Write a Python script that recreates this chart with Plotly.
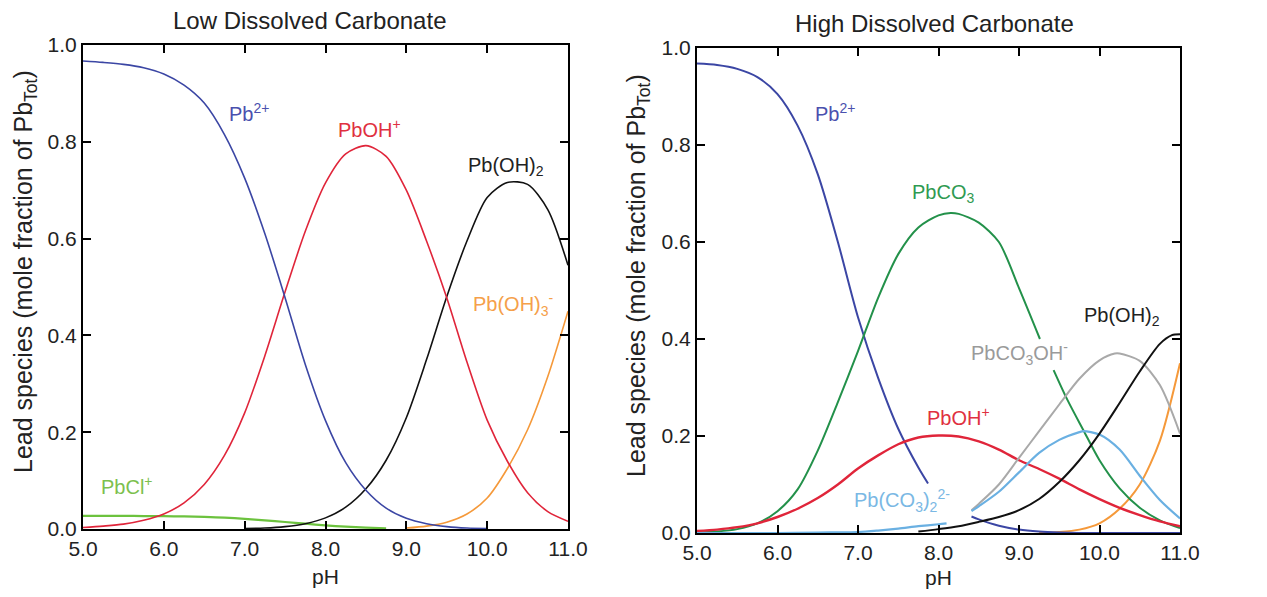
import plotly.graph_objects as go

# ---------------- Low dissolved carbonate (left) ----------------
ph_low = [5.0, 5.25, 5.5, 5.75, 6.0, 6.25, 6.5, 6.75, 7.0, 7.25, 7.5, 7.75, 8.0,
          8.25, 8.5, 8.75, 9.0, 9.25, 9.5, 9.75, 10.0, 10.25, 10.5, 10.75, 11.0]
low_pb2 = [0.967, 0.964, 0.960, 0.953, 0.940, 0.917, 0.880, 0.815, 0.725, 0.610, 0.478, 0.340, 0.224,
           0.137, 0.080, 0.043, 0.022, 0.011, 0.005, 0.002, 0.001, None, None, None, None]
low_pboh = [0.003, 0.006, 0.010, 0.018, 0.031, 0.054, 0.092, 0.152, 0.240, 0.358, 0.490, 0.615, 0.715,
            0.775, 0.792, 0.770, 0.700, 0.595, 0.478, 0.345, 0.225, 0.140, 0.075, 0.036, 0.016]
low_pboh2 = [None, None, None, None, None, None, None, None, 0.001, 0.002, 0.005, 0.011, 0.023,
             0.045, 0.083, 0.142, 0.230, 0.350, 0.480, 0.595, 0.685, 0.716, 0.712, 0.660, 0.545]
low_pboh3 = [None, None, None, None, None, None, None, None, None, None, None, None, None,
             None, None, None, 0.002, 0.006, 0.014, 0.031, 0.064, 0.125, 0.205, 0.315, 0.450]
low_pbcl = [0.027, 0.027, 0.027, 0.0268, 0.0265, 0.026, 0.025, 0.0235, 0.021, 0.018, 0.0145, 0.011, 0.0075,
            0.0048, 0.0028, 0.0015, None, None, None, None, None, None, None, None, None]

# ---------------- High dissolved carbonate (right) ----------------
ph_high = [5.0, 5.25, 5.5, 5.75, 6.0, 6.25, 6.5, 6.75, 7.0, 7.25, 7.5, 7.75, 8.0,
           8.25, 8.5, 8.75, 9.0, 9.25, 9.5, 9.75, 10.0, 10.25, 10.5, 10.75, 11.0]
hi_pboh = [0.004, 0.007, 0.012, 0.020, 0.033, 0.050, 0.072, 0.100, 0.133, 0.160, 0.183, 0.197, 0.201,
           0.199, 0.189, 0.172, 0.150, 0.132, 0.112, 0.090, 0.070, 0.052, 0.037, 0.024, 0.014]

hi_pb2_ph_a = [5.0, 5.25, 5.5, 5.75, 6.0, 6.25, 6.5, 6.75, 7.0, 7.25, 7.5, 7.75, 7.87]
hi_pb2_a = [0.968, 0.965, 0.957, 0.940, 0.905, 0.840, 0.740, 0.600, 0.445, 0.320, 0.215, 0.135, 0.102]
hi_pb2_ph_b = [8.41, 8.5, 8.75, 9.0, 9.25, 9.5, 9.75, 10.0, 10.5, 11.0]
hi_pb2_b = [0.034, 0.028, 0.015, 0.007, 0.003, 0.001, 0.0, 0.0, 0.0, 0.0]

hi_pbco3_ph_a = [5.0, 5.25, 5.5, 5.75, 6.0, 6.25, 6.5, 6.75, 7.0, 7.25, 7.5, 7.75, 8.0, 8.15, 8.25,
                 8.5, 8.75, 9.0, 9.26]
hi_pbco3_a = [0.001, 0.003, 0.008, 0.020, 0.045, 0.090, 0.170, 0.270, 0.375, 0.485, 0.575, 0.630, 0.655,
              0.660, 0.658, 0.640, 0.600, 0.505, 0.400]
hi_pbco3_ph_b = [9.43, 9.6, 9.8, 10.0, 10.25, 10.5, 10.75, 11.0]
hi_pbco3_b = [0.336, 0.275, 0.212, 0.150, 0.092, 0.052, 0.026, 0.010]

hi_dicarb_ph_a = [5.0, 6.0, 6.5, 7.0, 7.25, 7.5, 7.75, 8.0, 8.1]
hi_dicarb_a = [0.0, 0.0, 0.001, 0.002, 0.005, 0.009, 0.014, 0.018, 0.020]
hi_dicarb_ph_b = [8.41, 8.5, 8.75, 9.0, 9.25, 9.5, 9.75, 9.8, 10.0, 10.25, 10.5, 10.75, 11.0]
hi_dicarb_b = [0.045, 0.055, 0.085, 0.125, 0.165, 0.192, 0.208, 0.210, 0.203, 0.172, 0.118, 0.068, 0.030]

hi_co3oh_ph = [8.41, 8.5, 8.75, 9.0, 9.25, 9.5, 9.75, 10.0, 10.19, 10.25, 10.5, 10.75, 11.0]
hi_co3oh = [0.047, 0.060, 0.100, 0.155, 0.210, 0.265, 0.318, 0.356, 0.370, 0.370, 0.355, 0.305, 0.205]

hi_pboh2_ph = [7.75, 8.0, 8.25, 8.5, 8.75, 9.0, 9.25, 9.5, 9.75, 10.0, 10.25, 10.5, 10.75, 10.9, 11.0]
hi_pboh2 = [0.003, 0.008, 0.014, 0.023, 0.033, 0.047, 0.070, 0.105, 0.150, 0.205, 0.268, 0.333, 0.390,
            0.408, 0.410]

hi_pboh3_ph = [9.25, 9.5, 9.75, 10.0, 10.25, 10.5, 10.75, 11.0]
hi_pboh3 = [0.0, 0.002, 0.007, 0.020, 0.050, 0.100, 0.190, 0.350]

x_ticks = [5, 6, 7, 8, 9, 10, 11]
y_ticks = [0.0, 0.2, 0.4, 0.6, 0.8, 1.0]

BLUE = "#3b46a4"
RED = "#e0253a"
BLACK = "#111111"
ORANGE = "#f5993a"
LGREEN = "#6cc23e"
DGREEN = "#23914a"
GRAY = "#a9a9a9"
LBLUE = "#6ab0e2"
FONT = "Liberation Sans, Arial, sans-serif"
TXT = "#222222"

fig = go.Figure()


def add(x, y, color, axis, width=1.6):
    fig.add_trace(go.Scatter(x=x, y=y, mode="lines",
                             line=dict(color=color, width=width, shape="spline", smoothing=0.8),
                             xaxis="x" if axis == 1 else "x2", yaxis="y" if axis == 1 else "y2",
                             hoverinfo="skip", showlegend=False, connectgaps=False))


# left
add(ph_low, low_pbcl, LGREEN, 1, 2.2)
add(ph_low, low_pboh3, ORANGE, 1)
add(ph_low, low_pboh2, BLACK, 1)
add(ph_low, low_pboh, RED, 1)
add(ph_low, low_pb2, BLUE, 1)

# right
add(hi_pboh3_ph, hi_pboh3, ORANGE, 2, 2)
add(hi_pb2_ph_a + [None] + hi_pb2_ph_b, hi_pb2_a + [None] + hi_pb2_b, BLUE, 2, 2)
add(hi_pbco3_ph_a + [None] + hi_pbco3_ph_b, hi_pbco3_a + [None] + hi_pbco3_b, DGREEN, 2, 2)
add(ph_high, hi_pboh, RED, 2, 2.4)
add(hi_co3oh_ph, hi_co3oh, GRAY, 2, 2)
add(hi_dicarb_ph_a + [None] + hi_dicarb_ph_b, hi_dicarb_a + [None] + hi_dicarb_b, LBLUE, 2, 2.2)
add(hi_pboh2_ph, hi_pboh2, BLACK, 2, 2)

# the page body adds an 8 px offset, so the figure is sized to fit inside the window
OFF = 8
W, H = 1267 - 2 * OFF, 597 - 2 * OFF


def px(v):
    return (v - OFF) / W


def py(v):
    return 1 - (v - OFF) / H


axis_common = dict(showline=True, linecolor="black", linewidth=2, mirror="ticks", ticks="inside",
                   ticklen=8, tickwidth=2, tickcolor="black", showgrid=False, zeroline=False,
                   automargin=False,
                   tickfont=dict(family=FONT, size=21, color=TXT),
                   title_font=dict(family=FONT, size=21, color=TXT))

xa = dict(axis_common, range=[5, 11], tickvals=x_ticks, tickformat=".1f",
          title_text="pH", title_standoff=10)
ya = dict(axis_common, range=[0, 1], tickvals=y_ticks, tickformat=".1f")

fig.update_layout(
    width=W, height=H,
    margin=dict(l=0, r=0, t=0, b=0),
    paper_bgcolor="white", plot_bgcolor="white",
    showlegend=False,
    xaxis=dict(xa, domain=[px(83), px(568)], anchor="y"),
    yaxis=dict(ya, domain=[py(529), py(45)], anchor="x"),
    xaxis2=dict(xa, domain=[px(697), px(1180)], anchor="y2"),
    yaxis2=dict(ya, domain=[py(533), py(48)], anchor="x2"),
)

labels = [
    # (text, x, y, color, axis)
    ("Pb<sup>2+</sup>", 7.05, 0.86, "#4a50ae", 1),
    ("PbOH<sup>+</sup>", 8.55, 0.827, "#e03040", 1),
    ("Pb(OH)<sub>2</sub>", 10.23, 0.75, TXT, 1),
    ("Pb(OH)<sub>3</sub><sup>-</sup>", 10.33, 0.463, "#f5a04a", 1),
    ("PbCl<sup>+</sup>", 5.54, 0.09, "#7cc04e", 1),
    ("Pb<sup>2+</sup>", 6.71, 0.866, "#4a50ae", 2),
    ("PbCO<sub>3</sub>", 8.06, 0.70, "#2f9a52", 2),
    ("Pb(OH)<sub>2</sub>", 10.28, 0.446, TXT, 2),
    ("PbCO<sub>3</sub>OH<sup>-</sup>", 9.01, 0.37, "#9a9a9a", 2),
    ("PbOH<sup>+</sup>", 8.25, 0.24, "#e03040", 2),
    ("Pb(CO<sub>3</sub>)<sub>2</sub><sup>2-</sup>", 7.55, 0.068, "#7ab8e4", 2),
    ("Pb(OH)<sub>3</sub><sup>-</sup>", 11.37, 0.126, "#f5a04a", 2),
]
for text, x, y, color, ax in labels:
    fig.add_annotation(text=text, x=x, y=y, xref="x" if ax == 1 else "x2", yref="y" if ax == 1 else "y2",
                       xanchor="center", yanchor="middle",
                       showarrow=False, font=dict(family=FONT, size=20, color=color))

# panel titles
fig.add_annotation(text="Low Dissolved Carbonate", x=px(309), y=py(21), xref="paper", yref="paper",
                   xanchor="center", yanchor="middle",
                   showarrow=False, font=dict(family=FONT, size=24, color=TXT))
fig.add_annotation(text="High Dissolved Carbonate", x=px(935), y=py(23), xref="paper", yref="paper",
                   xanchor="center", yanchor="middle",
                   showarrow=False, font=dict(family=FONT, size=24, color=TXT))

# y-axis titles
ytitle = "Lead species (mole fraction of Pb<sub>Tot</sub>)"
fig.add_annotation(text=ytitle, x=px(25), y=py(272), xref="paper", yref="paper",
                   xanchor="center", yanchor="middle", textangle=-90, borderpad=0,
                   showarrow=False, font=dict(family=FONT, size=25, color=TXT))
fig.add_annotation(text=ytitle, x=px(638), y=py(276), xref="paper", yref="paper",
                   xanchor="center", yanchor="middle", textangle=-90, borderpad=0,
                   showarrow=False, font=dict(family=FONT, size=25, color=TXT))

fig.write_html("out.html")
